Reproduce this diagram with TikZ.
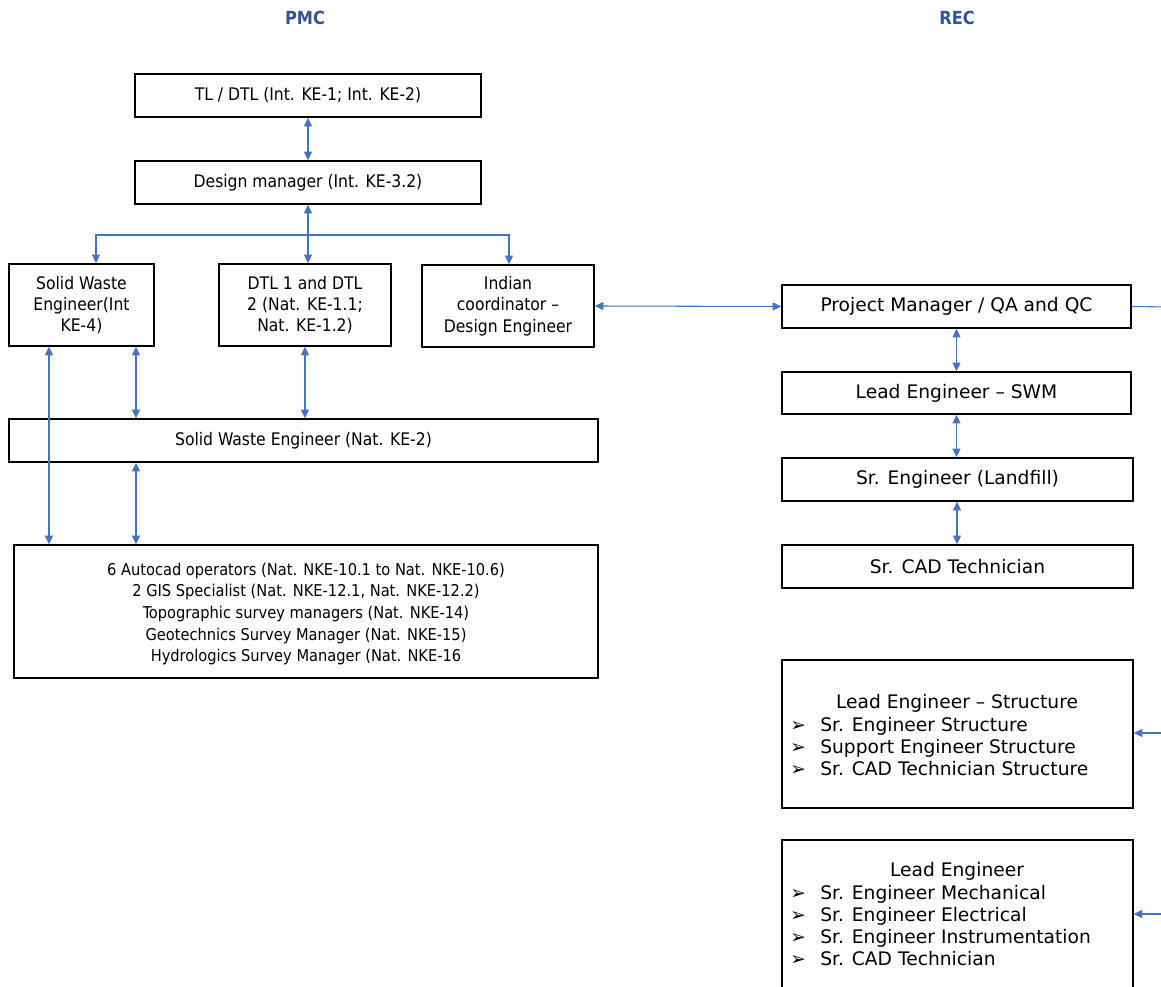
\documentclass[tikz,border=0pt]{standalone}
\usepackage{fontspec}
\setmainfont{DejaVu Sans}
\newfontfamily\cond{DejaVu Sans Condensed}
\usetikzlibrary{arrows.meta,calc}
\definecolor{arrowblue}{RGB}{68,114,196}
\definecolor{titleblue}{RGB}{47,85,151}
\newcommand{\bul}{\makebox[22.5pt][l]{➢}}
\begin{document}
\begin{tikzpicture}[x=0.75pt,y=-0.75pt,
  >={Triangle[length=6.5pt,width=6pt]},
  box/.style={draw=black, line width=1.1pt, inner sep=0pt, align=center},
  pmcbox/.style={box, font=\cond\fontsize{13}{16}\selectfont},
  recbox/.style={box, font=\fontsize{14}{16.5}\selectfont},
  rectext/.style={inner sep=0pt, font=\fontsize{14}{16.5}\selectfont},
  heading/.style={text=titleblue, font=\cond\bfseries\fontsize{13.5}{15}\selectfont},
  link/.style={draw=arrowblue, line width=0.8pt}]
\clip (0,0) rectangle (1161,987);
\fill[white] (0,0) rectangle (1161,987);

% titles
\node[heading] (pmc) at (305,18) {PMC};
\node[heading] (rec) at (957,18) {REC};

% PMC side
\node[pmcbox, minimum width=259.5pt, minimum height=32.25pt] (tl) at (308,95.5) {TL / DTL (Int. KE-1; Int. KE-2)};
\node[pmcbox, minimum width=259.5pt, minimum height=32.25pt] (dm) at (308,182.5) {Design manager (Int. KE-3.2)};
\node[pmcbox, minimum width=108.75pt, minimum height=61.5pt] (swe) at (81.5,305) {Solid Waste\\Engineer(Int\\KE-4)};
\node[pmcbox, minimum width=129pt, minimum height=61.5pt] (dtl) at (305,305) {DTL 1 and DTL\\2 (Nat. KE-1.1;\\Nat. KE-1.2)};
\node[pmcbox, minimum width=129pt, minimum height=61.5pt] (ind) at (508,306) {Indian\\coordinator –\\Design Engineer};
\node[pmcbox, minimum width=441.75pt, minimum height=32.25pt] (swn) at (303.5,440.5) {Solid Waste Engineer (Nat. KE-2)};
\node[pmcbox, font=\cond\fontsize{12.2}{16.3}\selectfont, minimum width=438pt, minimum height=99.75pt] (ops) at (306,611.5) {};
\node[inner sep=0pt, align=center, font=\cond\fontsize{12.2}{16.3}\selectfont] (opstext) at (306,614) {6 Autocad operators (Nat. NKE-10.1 to Nat. NKE-10.6)\\2 GIS Specialist (Nat. NKE-12.1, Nat. NKE-12.2)\\Topographic survey managers (Nat. NKE-14)\\Geotechnics Survey Manager (Nat. NKE-15)\\Hydrologics Survey Manager (Nat. NKE-16};

% REC side
\node[recbox, minimum width=261.75pt, minimum height=32.25pt] (pm) at (956.5,306.5) {Project Manager / QA and QC};
\node[recbox, minimum width=261.75pt, minimum height=31.5pt] (lsw) at (956.5,393) {Lead Engineer – SWM};
\node[recbox, minimum width=263.25pt, minimum height=32.25pt] (lf) at (957.5,479.5) {Sr. Engineer (Landfill)};
\node[recbox, minimum width=263.25pt, minimum height=32.25pt] (cad) at (957.5,566.5) {Sr. CAD Technician};
\node[box, minimum width=263.25pt, minimum height=111pt] (str) at (957.5,734) {};
\node[rectext] (strhead) at (957,703) {Lead Engineer – Structure};
\node[rectext, anchor=west, align=left] (strlist) at (790,746.5) {\bul Sr. Engineer Structure\\\bul Support Engineer Structure\\\bul Sr. CAD Technician Structure};
\node[box, minimum width=263.25pt, minimum height=127.5pt] (le) at (957.5,925) {};
\node[rectext] (lehead) at (957,871) {Lead Engineer};
\node[rectext, anchor=west, align=left] (lelist) at (790,926) {\bul Sr. Engineer Mechanical\\\bul Sr. Engineer Electrical\\\bul Sr. Engineer Instrumentation\\\bul Sr. CAD Technician};

% connectors PMC
\draw[link,<->] (tl.south) -- (dm.north);
\draw[link,<->] (dm.south) -- (dtl.north -| dm.south);
\coordinate (j) at (308,235);
\draw[link,->] (j) -| (96,0 |- swe.north);
\draw[link,->] (j) -| (509,0 |- ind.north);
\draw[link,<->] (49,0 |- swe.south) -- (49,0 |- ops.north);
\draw[link,<->] (136,0 |- swe.south) -- (136,0 |- swn.north);
\draw[link,<->] (dtl.south) -- (dtl.south |- swn.north);
\draw[link,<->] (136,0 |- swn.south) -- (136,0 |- ops.north);
\draw[link,<->] (ind.east) -- (pm.west);

% connectors REC
\draw[link,<->] (pm.south) -- (pm.south |- lsw.north);
\draw[link,<->] (lsw.south) -- (lsw.south |- lf.north);
\draw[link,<->] (957,0 |- lf.south) -- (957,0 |- cad.north);
\coordinate (e1) at (1170,307);
\coordinate (e2) at (1170,733);
\coordinate (e3) at (1170,914);
\draw[link] (pm.east) -- (e1);
\draw[link,->] (e2) -- (str.east |- e2);
\draw[link,->] (e3) -- (le.east |- e3);
\end{tikzpicture}
\end{document}
